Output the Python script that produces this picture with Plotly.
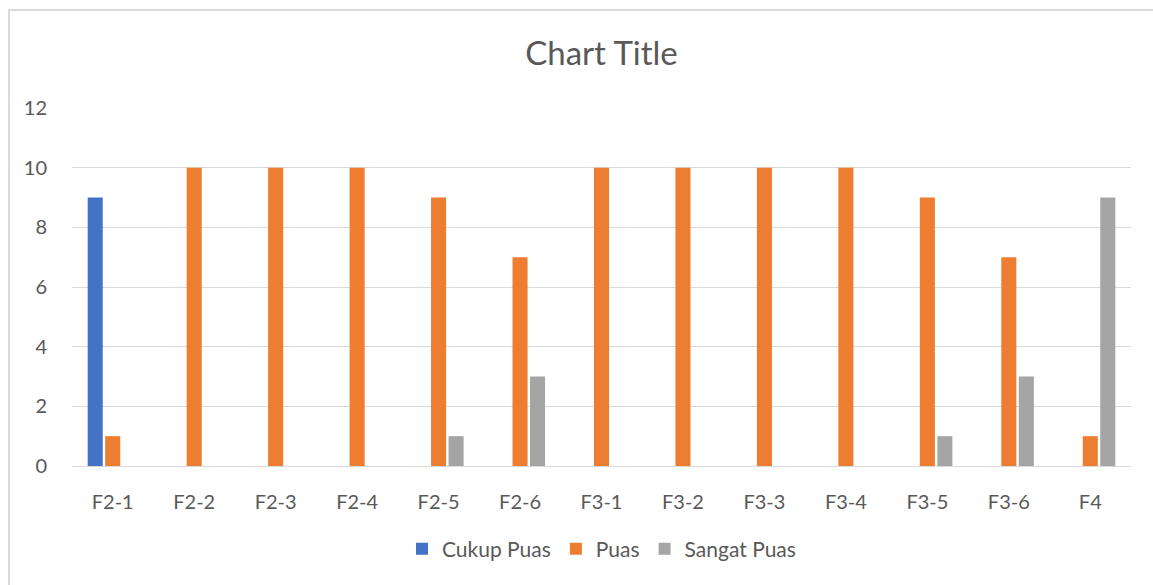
import plotly.graph_objects as go

categories = ["F2-1", "F2-2", "F2-3", "F2-4", "F2-5", "F2-6",
              "F3-1", "F3-2", "F3-3", "F3-4", "F3-5", "F3-6", "F4"]
cukup_puas = [9, 0, 0, 0, 0, 0, 0, 0, 0, 0, 0, 0, 0]
puas = [1, 10, 10, 10, 9, 7, 10, 10, 10, 10, 9, 7, 1]
sangat_puas = [0, 0, 0, 0, 1, 3, 0, 0, 0, 0, 1, 3, 9]
y_ticks = [0, 2, 4, 6, 8, 10, 12]

FONT = "Lato, Open Sans, sans-serif"
TXT = "#595959"

fig = go.Figure()
for name, vals, col in [("Cukup Puas", cukup_puas, "#4472C4"),
                        ("Puas", puas, "#ED7D31"),
                        ("Sangat Puas", sangat_puas, "#A5A5A5")]:
    fig.add_trace(go.Bar(x=categories, y=vals, name=name,
                         marker=dict(color=col, line=dict(width=0))))

W, H = 1153, 585
L, R, T, B = 72, 22, 108, 119
PW, PH = W - L - R, H - T - B

def px(x):
    return (x - L) / PW

def py(y):
    return (H - B - y) / PH

fig.update_layout(
    width=W, height=H,
    barmode="group", bargap=0.355, bargroupgap=0.14,
    plot_bgcolor="white", paper_bgcolor="white",
    margin=dict(l=L, r=R, t=T, b=B, pad=0),
    title=dict(text="Chart Title", x=(L + PW / 2) / W, xanchor="center",
               y=1 - 53 / H, yanchor="middle",
               font=dict(family=FONT, size=33, color=TXT)),
    font=dict(family=FONT, size=20, color=TXT),
    legend=dict(orientation="h", x=0.5, xanchor="center",
                y=py(549), yanchor="middle",
                font=dict(family=FONT, size=21, color=TXT),
                itemsizing="constant", itemwidth=30, traceorder="normal"),
    xaxis=dict(showgrid=False, showline=True, linecolor="#D9D9D9", linewidth=1,
               ticks="", ticklabelstandoff=18,
               tickfont=dict(family=FONT, size=20, color=TXT)),
    yaxis=dict(range=[0, 12], tickvals=y_ticks, showgrid=True,
               gridcolor="#D9D9D9", gridwidth=1, zeroline=False,
               showline=False, ticks="", ticklabelstandoff=24,
               tickfont=dict(family=FONT, size=20, color=TXT)),
    shapes=[
        dict(type="line", xref="paper", yref="paper",
             x0=px(9), x1=px(9), y0=py(9), y1=py(H),
             line=dict(color="#D9D9D9", width=2)),
        dict(type="line", xref="paper", yref="paper",
             x0=px(9), x1=px(W), y0=py(10), y1=py(10),
             line=dict(color="#D9D9D9", width=2)),
    ],
)

fig.write_html(
    "out.html",
    config={"displayModeBar": False},
    post_script="document.body.style.margin='0';"
                "document.documentElement.style.overflow='hidden';"
                "document.body.style.overflow='hidden';",
)
